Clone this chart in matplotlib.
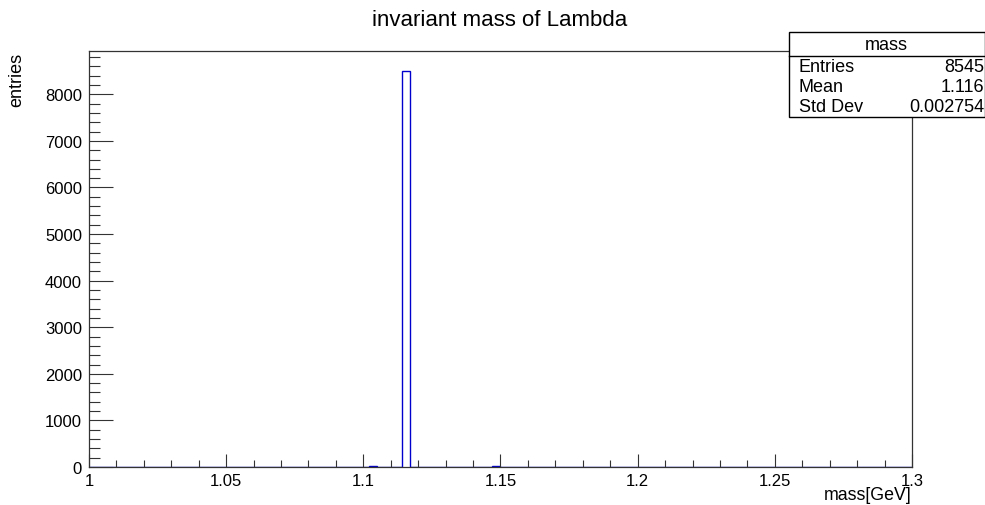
import numpy as np
import matplotlib
matplotlib.use('Agg')
import matplotlib.pyplot as plt
from matplotlib.ticker import MultipleLocator
from matplotlib.patches import Rectangle

plt.rcParams['font.family'] = ['Liberation Sans', 'DejaVu Sans']

# histogram: 100 bins between 1.0 and 1.3 GeV, only a few are filled
n_bins = 100
x_min, x_max = 1.0, 1.3
filled_bins = [34, 38, 49]          # bin index
filled_counts = [22, 8503, 20]      # entries in those bins

stat_names = ['Entries', 'Mean', 'Std Dev']
stat_values = ['8545', '1.116', '0.002754']

edges = np.linspace(x_min, x_max, n_bins + 1)
counts = np.zeros(n_bins)
counts[filled_bins] = filled_counts

W, H = 985, 506
fig = plt.figure(figsize=(W / 100, H / 100), dpi=100)
ax = fig.add_axes([89 / W, 1 - 468 / H, (912 - 89) / W, (468 - 52) / H])

ax.stairs(counts, edges, color='#0000cc', linewidth=1.0, baseline=0)
ax.set_xlim(x_min, x_max)
ax.set_ylim(0, 8930)

ax.xaxis.set_major_locator(MultipleLocator(0.05))
ax.xaxis.set_minor_locator(MultipleLocator(0.01))
ax.yaxis.set_major_locator(MultipleLocator(1000))
ax.yaxis.set_minor_locator(MultipleLocator(200))
ax.set_xticks([1.0, 1.05, 1.1, 1.15, 1.2, 1.25, 1.3],
              ['1', '1.05', '1.1', '1.15', '1.2', '1.25', '1.3'])

ax.tick_params(axis='both', which='both', direction='in', top=False, right=False,
               labelsize=12, color='#333333')
ax.tick_params(axis='x', which='major', length=9.5, width=0.8, pad=4)
ax.tick_params(axis='x', which='minor', length=4.8, width=0.8)
ax.tick_params(axis='y', which='major', length=17, width=0.8, pad=5)
ax.tick_params(axis='y', which='minor', length=8, width=0.8)
for sp in ax.spines.values():
    sp.set_linewidth(0.9)
    sp.set_color('#333333')

fig.text(500 / W, 1 - 20 / H, 'invariant mass of Lambda', ha='center', va='center',
         fontsize=16)
fig.text(17 / W, 1 - 53 / H, 'entries', rotation=90, ha='center', va='top',
         fontsize=13)
fig.text(912 / W, 1 - 496 / H, 'mass[GeV]', ha='right', va='center', fontsize=12.8)

# stats box
bx0, bx1 = 789 / W, 984.5 / W
by_top, by_bot = 1 - 33 / H, 1 - 118 / H
by_div = 1 - 57 / H
fig.patches.append(Rectangle((bx0, by_bot), bx1 - bx0, by_top - by_bot,
                             transform=fig.transFigure, facecolor='white',
                             edgecolor='black', linewidth=1.0, zorder=5))
fig.add_artist(plt.Line2D([bx0, bx1], [by_div, by_div], transform=fig.transFigure,
                          color='black', linewidth=1.0, zorder=6))
fig.text((bx0 + bx1) / 2, 1 - 45 / H, 'mass', ha='center', va='center',
         fontsize=13, zorder=7)
for i, (name, val) in enumerate(zip(stat_names, stat_values)):
    yy = 1 - (67 + 20 * i) / H
    fig.text(799 / W, yy, name, ha='left', va='center', fontsize=13, zorder=7)
    fig.text(984 / W, yy, val, ha='right', va='center', fontsize=13, zorder=7)

fig.savefig('out.png', dpi=100)
